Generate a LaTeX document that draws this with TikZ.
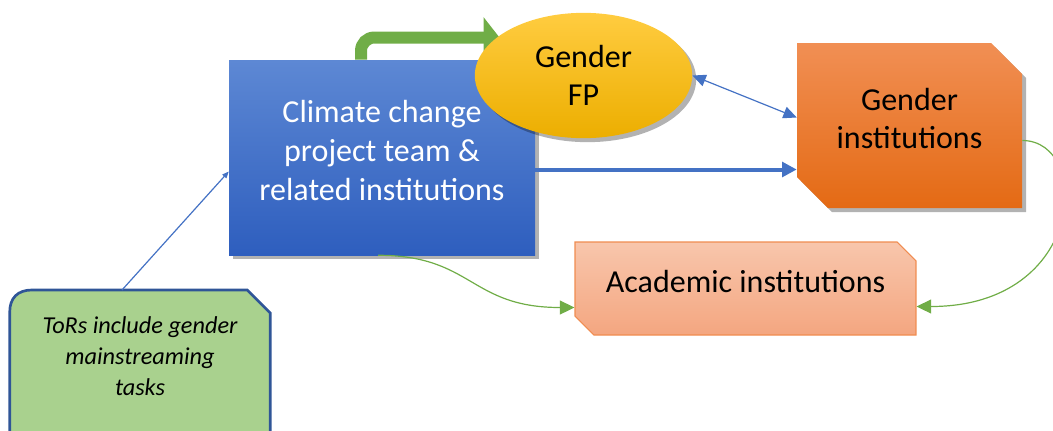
\documentclass[tikz,border=0pt]{standalone}
\usepackage{fontspec}
\setmainfont{Carlito}
\usetikzlibrary{arrows.meta,positioning,calc,shapes.geometric,shapes.misc,shadows,backgrounds}
\definecolor{teamtop}{RGB}{93,136,212}
\definecolor{teambot}{RGB}{46,94,190}
\definecolor{fptop}{RGB}{255,204,64}
\definecolor{fpmid}{RGB}{255,192,0}
\definecolor{fpbot}{RGB}{236,174,0}
\definecolor{insttop}{RGB}{241,143,84}
\definecolor{instbot}{RGB}{228,106,20}
\definecolor{acadtop}{RGB}{248,198,172}
\definecolor{acadbot}{RGB}{244,166,128}
\definecolor{acadline}{RGB}{240,140,80}
\definecolor{torsfill}{RGB}{169,209,142}
\definecolor{torsline}{RGB}{47,85,151}
\definecolor{linkblue}{RGB}{68,114,196}
\definecolor{linkgreen}{RGB}{112,173,71}
\newcommand\boxfont{\fontsize{24}{29}\selectfont}
\tikzset{
  softshadow/.style={drop shadow={shadow xshift=3pt,shadow yshift=-3pt,opacity=.3,fill=black}},
  teambox/.style={rectangle,minimum width=229.5pt,minimum height=146.25pt,text depth=10.5pt,
    top color=teamtop,bottom color=teambot,text=white,font=\boxfont,
    align=center,softshadow},
  fpoval/.style={ellipse,minimum width=163pt,minimum height=94pt,inner sep=0pt,
    top color=fptop,middle color=fpmid,bottom color=fpbot,font=\boxfont,align=center,softshadow},
  instbox/.style={chamfered rectangle,chamfered rectangle corners={north east,south west},
    chamfered rectangle xsep=20pt,minimum width=168.75pt,minimum height=123.75pt,text depth=10.5pt,
    top color=insttop,bottom color=instbot,font=\boxfont,align=center,softshadow},
  acadbox/.style={chamfered rectangle,chamfered rectangle corners={north east,south west},
    chamfered rectangle xsep=11pt,minimum width=255.75pt,minimum height=69.75pt,text depth=10.5pt,
    top color=acadtop,bottom color=acadbot,draw=acadline,line width=.8pt,
    font=\boxfont,align=center},
  torstext/.style={rectangle,minimum width=195pt,minimum height=99pt,
    font=\fontsize{18.2}{23}\selectfont\itshape,align=center},
  torsshape/.style={fill=torsfill,draw=torsline,line width=2pt},
  bentarrow/.style={-{Triangle[length=12pt,width=30pt]},linkgreen,line width=9pt,
    rounded corners=10pt},
  thinblue/.style={-{Triangle[length=5pt,width=4pt]},linkblue,line width=.9pt},
  pairblue/.style={{Triangle[length=10pt,width=9pt]}-{Triangle[length=10pt,width=9pt]},
    linkblue,line width=.9pt},
  thickblue/.style={-{Triangle[length=11pt,width=11pt]},linkblue,line width=3pt},
  thingreen/.style={-{Triangle[length=11pt,width=10.5pt]},linkgreen,line width=.9pt}
}
\begin{document}
\begin{tikzpicture}[x=0.75pt,y=-0.75pt]
\useasboundingbox (0,0) rectangle (1053,430);
% boxes
\node[teambox] (team) at (382,157.5) {Climate change\\project team \&\\related institutions};
\node[fpoval] (fp) at (583.5,75.5) {Gender\\FP};
\node[instbox] (ginst) at (909.5,125.5) {Gender\\institutions};
\node[acadbox] (acad) at (745.5,288.5) {Academic institutions};
\node[torstext,anchor=north] (tors) at (140,290) {ToRs include gender\\mainstreaming\\tasks};

\begin{scope}[on background layer]
% card behind the ToRs text, running off the bottom
\draw[torsshape] ($(tors.south west)+(0,20)$) -- ($(tors.north west)+(0,22)$)
  .. controls ($(tors.north west)+(0,8)$) and ($(tors.north west)+(8,0)$) .. ($(tors.north west)+(22,0)$)
  -- ($(tors.north east)+(-23,0)$) -- ($(tors.north east)+(0,23)$) -- ($(tors.south east)+(0,20)$);
\draw[bentarrow] ($(team.north)+(-21,0)$) |- ($(fp.center)+(-84,-38)$);
\end{scope}

% links
\coordinate (teamout) at ($(team.east)+(0,12)$);
\draw[thinblue] ($(tors.north)+(-18,0)$) -- ($(team.west)+(0,14)$);
\draw[thickblue] (teamout) -- (teamout -| ginst.west);
\draw[pairblue] (fp.east) -- ($(ginst.west)+(0,-8)$);
\draw[thingreen] ($(team.south)+(-4,0)$) .. controls +(95,0) and +(-105,0) .. ($(acad.west)+(0,19)$);
\draw[thingreen] ($(ginst.east)+(0,15)$) .. controls +(70,0) and +(170,0) .. ($(acad.east)+(0,18)$);
\end{tikzpicture}
\end{document}
